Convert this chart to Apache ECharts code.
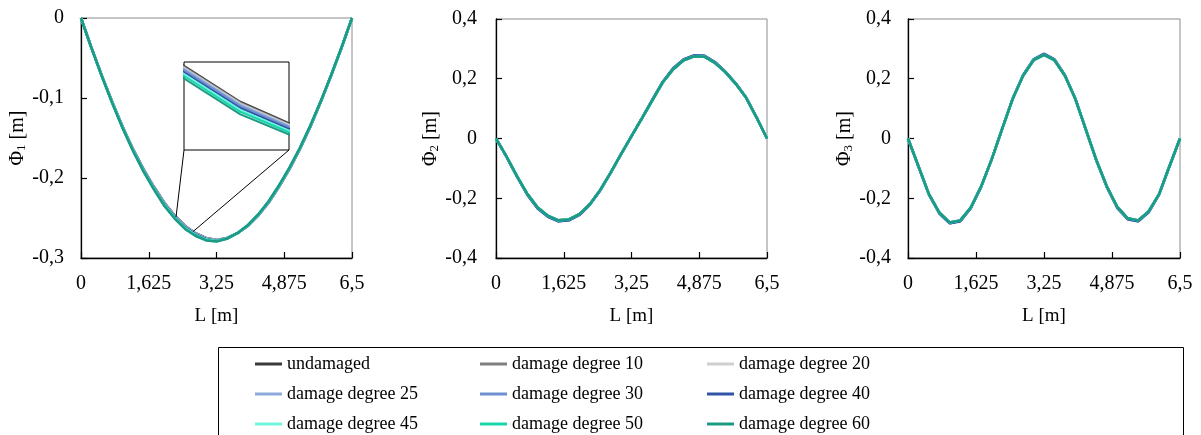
<!DOCTYPE html>
<html><head><meta charset="utf-8">
<script src="https://cdn.jsdelivr.net/npm/echarts@6/dist/echarts.min.js"></script>
<style>html,body{margin:0;padding:0;background:#fff}#c{width:1201px;height:435px}</style>
</head><body><div id="c"></div>
<script>
// ---------- data ----------
const L = [0,0.25,0.5,0.75,1,1.25,1.5,1.75,2,2.25,2.5,2.75,3,3.25,3.5,3.75,4,4.25,4.5,4.75,5,5.25,5.5,5.75,6,6.25,6.5];
const seriesNames = ['undamaged','damage degree 10','damage degree 20','damage degree 25','damage degree 30','damage degree 40','damage degree 45','damage degree 50','damage degree 60'];
const seriesColors = ['#3a3a3a','#7f7f7f','#cfcfcf','#8eaadc','#6f8fd0','#2f54a6','#6ff7df','#18d6ac','#1d9a84'];

// mode 1
const phi1_undamaged = [0,-0.037,-0.072,-0.105,-0.136,-0.164,-0.189,-0.211,-0.231,-0.247,-0.26,-0.269,-0.275,-0.2775,-0.275,-0.269,-0.26,-0.247,-0.231,-0.211,-0.189,-0.164,-0.136,-0.105,-0.072,-0.037,0];
const phi1_d10 = [0,-0.037,-0.0721,-0.1051,-0.1362,-0.1642,-0.1892,-0.2113,-0.2313,-0.2473,-0.2603,-0.2693,-0.2752,-0.2777,-0.2751,-0.269,-0.2599,-0.2469,-0.2308,-0.2108,-0.1888,-0.1639,-0.1359,-0.1049,-0.0719,-0.037,0];
const phi1_d20 = [0,-0.0371,-0.0722,-0.1052,-0.1363,-0.1644,-0.1895,-0.2115,-0.2316,-0.2476,-0.2606,-0.2695,-0.2755,-0.2778,-0.2752,-0.269,-0.2598,-0.2468,-0.2307,-0.2107,-0.1887,-0.1637,-0.1358,-0.1048,-0.0719,-0.037,0];
const phi1_d25 = [0,-0.0371,-0.0723,-0.1054,-0.1365,-0.1646,-0.1898,-0.2119,-0.232,-0.248,-0.261,-0.2699,-0.2758,-0.278,-0.2753,-0.269,-0.2597,-0.2466,-0.2305,-0.2105,-0.1885,-0.1635,-0.1356,-0.1047,-0.0718,-0.0369,0];
const phi1_d30 = [0,-0.0372,-0.0724,-0.1055,-0.1367,-0.1649,-0.1901,-0.2122,-0.2324,-0.2484,-0.2614,-0.2702,-0.2761,-0.2782,-0.2754,-0.269,-0.2596,-0.2465,-0.2303,-0.2103,-0.1883,-0.1634,-0.1355,-0.1046,-0.0718,-0.0369,0];
const phi1_d40 = [0,-0.0373,-0.0725,-0.1058,-0.137,-0.1653,-0.1905,-0.2128,-0.233,-0.249,-0.262,-0.2708,-0.2765,-0.2785,-0.2755,-0.269,-0.2595,-0.2462,-0.23,-0.21,-0.188,-0.1631,-0.1352,-0.1045,-0.0716,-0.0368,0];
const phi1_d45 = [0,-0.0373,-0.0727,-0.106,-0.1373,-0.1656,-0.191,-0.2133,-0.2336,-0.2496,-0.2626,-0.2713,-0.277,-0.2788,-0.2757,-0.269,-0.2593,-0.246,-0.2297,-0.2097,-0.1877,-0.1628,-0.135,-0.1043,-0.0715,-0.0368,0];
const phi1_d50 = [0,-0.0374,-0.0728,-0.1062,-0.1376,-0.166,-0.1914,-0.2138,-0.2342,-0.2502,-0.2632,-0.2718,-0.2774,-0.2791,-0.2758,-0.269,-0.2592,-0.2458,-0.2294,-0.2094,-0.1874,-0.1626,-0.1348,-0.1042,-0.0714,-0.0368,0];
const phi1_d60 = [0,-0.0375,-0.073,-0.1065,-0.138,-0.1665,-0.192,-0.2145,-0.235,-0.251,-0.264,-0.2725,-0.278,-0.2795,-0.276,-0.269,-0.259,-0.2455,-0.229,-0.209,-0.187,-0.1622,-0.1345,-0.104,-0.0713,-0.0367,0];

// mode 2 (curves nearly coincide)
const phi2_undamaged_to_20 = [0,-0.06,-0.125,-0.185,-0.231,-0.259,-0.274,-0.271,-0.253,-0.22,-0.172,-0.114,-0.052,0.008,0.067,0.128,0.188,0.232,0.262,0.275,0.274,0.253,0.222,0.183,0.136,0.07,0];
const phi2_d25_to_40 = [0,-0.061,-0.127,-0.188,-0.234,-0.262,-0.277,-0.274,-0.256,-0.222,-0.174,-0.115,-0.052,0.008,0.068,0.13,0.19,0.235,0.265,0.278,0.277,0.256,0.224,0.185,0.137,0.071,0];
const phi2_d45_to_60 = [0,-0.06,-0.125,-0.185,-0.231,-0.259,-0.274,-0.271,-0.253,-0.22,-0.172,-0.114,-0.052,0.008,0.067,0.128,0.188,0.232,0.262,0.275,0.274,0.253,0.222,0.183,0.136,0.07,0];

// mode 3
const phi3_undamaged_to_20 = [0,-0.093,-0.186,-0.248,-0.281,-0.274,-0.231,-0.16,-0.07,0.032,0.132,0.21,0.262,0.28,0.262,0.21,0.132,0.03,-0.072,-0.16,-0.229,-0.267,-0.274,-0.244,-0.186,-0.092,0];
const phi3_d25_to_40 = [0,-0.094,-0.188,-0.251,-0.284,-0.277,-0.233,-0.161,-0.07,0.032,0.133,0.212,0.265,0.283,0.265,0.212,0.133,0.03,-0.073,-0.162,-0.232,-0.27,-0.277,-0.247,-0.188,-0.093,0];
const phi3_d45_to_60 = [0,-0.093,-0.186,-0.248,-0.281,-0.274,-0.231,-0.16,-0.07,0.032,0.132,0.21,0.262,0.28,0.262,0.21,0.132,0.03,-0.072,-0.16,-0.229,-0.267,-0.274,-0.244,-0.186,-0.092,0];

const xTickInterval = 1.625;
const insetRange = [2.28, 2.69];
const insetValueRange = [-0.2754, -0.2473];

// ---------- chart ----------
const F = '"Liberation Serif", "Times New Roman", serif';
const phi1 = [phi1_undamaged, phi1_d10, phi1_d20, phi1_d25, phi1_d30, phi1_d40, phi1_d45, phi1_d50, phi1_d60];
const phi2 = [phi2_undamaged_to_20, phi2_undamaged_to_20, phi2_undamaged_to_20, phi2_d25_to_40, phi2_d25_to_40, phi2_d25_to_40, phi2_d45_to_60, phi2_d45_to_60, phi2_d45_to_60];
const phi3 = [phi3_undamaged_to_20, phi3_undamaged_to_20, phi3_undamaged_to_20, phi3_d25_to_40, phi3_d25_to_40, phi3_d25_to_40, phi3_d45_to_60, phi3_d45_to_60, phi3_d45_to_60];

const fmt = v => { const s = String(+(+v).toFixed(4)); return s.replace('.', ','); };

function xAx(i) {
  return {
    type: 'value', gridIndex: i, min: 0, max: 6.5, interval: xTickInterval,
    name: 'L [m]', nameLocation: 'middle', nameGap: 49,
    nameTextStyle: {fontFamily: F, fontSize: 19, color: '#000'},
    axisLine: {show: true, onZero: false, lineStyle: {color: '#000', width: 1.3}},
    axisTick: {show: true, inside: true, length: 6, lineStyle: {color: '#000', width: 1.2}},
    axisLabel: {fontFamily: F, fontSize: 20, color: '#000', margin: 16, formatter: fmt, showMaxLabel: true, showMinLabel: true},
    splitLine: {show: false}
  };
}
function yAx(i, min, max, interval, sub, margin) {
  return {
    type: 'value', gridIndex: i, min: min, max: max, interval: interval,
    name: '{a|Φ}{s|' + sub + '}{a| [m]}', nameLocation: 'middle', nameGap: 51,
    nameTextStyle: {fontFamily: F, fontSize: 20, color: '#000',
      rich: {a: {fontFamily: F, fontSize: 20, color: '#000', lineHeight: 22},
             s: {fontFamily: F, fontSize: 13, color: '#000', lineHeight: 22, verticalAlign: 'bottom'}}},
    axisLine: {show: true, onZero: false, lineStyle: {color: '#000', width: 1.3}},
    axisTick: {show: true, inside: true, length: 6, lineStyle: {color: '#000', width: 1.2}},
    axisLabel: {fontFamily: F, fontSize: 20, color: '#000', margin: margin, formatter: fmt},
    splitLine: {show: false}
  };
}

const grids = [
  {left: 81, top: 18, width: 271, height: 240, show: true, borderColor: '#8c8c8c', borderWidth: 1},
  {left: 496, top: 19, width: 271, height: 239, show: true, borderColor: '#8c8c8c', borderWidth: 1},
  {left: 908, top: 19, width: 272, height: 239, show: true, borderColor: '#8c8c8c', borderWidth: 1},
  {left: 184, top: 62, width: 105, height: 88, show: true, borderColor: '#000', borderWidth: 1, backgroundColor: '#fff', z: 5}
];
const xAxes = [xAx(0), xAx(1), xAx(2),
  {type: 'value', gridIndex: 3, min: insetRange[0], max: insetRange[1], show: false}];
const yAxes = [yAx(0, -0.3, 0, 0.1, '1', 17), yAx(1, -0.4, 0.4, 0.2, '2', 19), yAx(2, -0.4, 0.4, 0.2, '3', 17),
  {type: 'value', gridIndex: 3, min: insetValueRange[0], max: insetValueRange[1], show: false}];

const series = [];
function addSeries(arrs, gi, width, z) {
  arrs.forEach((arr, k) => {
    series.push({
      type: 'line', name: seriesNames[k], xAxisIndex: gi, yAxisIndex: gi,
      data: L.map((x, i) => [x, arr[i]]),
      showSymbol: false, symbol: 'none', clip: true, z: z,
      color: seriesColors[k],
      lineStyle: {color: seriesColors[k], width: width},
      itemStyle: {color: seriesColors[k]},
      emphasis: {disabled: true}, animation: false
    });
  });
}
addSeries(phi1, 0, 2.5, 2);
addSeries(phi2, 1, 2.5, 2);
addSeries(phi3, 2, 2.5, 2);
addSeries(phi1, 3, 2, 6);

// legend: 3 columns x 3 rows, one legend per entry
const legendCols = [255, 480, 707];
const legendRows = [364, 394, 424];
const legends = seriesNames.map((n, k) => ({
  data: [n], left: legendCols[k % 3], top: legendRows[Math.floor(k / 3)] - 11,
  icon: 'rect', itemWidth: 27, itemHeight: 3, itemGap: 0, selectedMode: false, padding: 0,
  textStyle: {fontFamily: F, fontSize: 18, color: '#000', lineHeight: 22}
}));

const chart = echarts.init(document.getElementById('c'), null, {renderer: 'canvas'});
chart.setOption({
  animation: false,
  backgroundColor: '#fff',
  grid: grids, xAxis: xAxes, yAxis: yAxes, series: series,
  legend: legends
});

// connector lines from inset corners to the zoomed curve region
function interp(arr, x) {
  for (let i = 0; i < L.length - 1; i++) {
    if (x >= L[i] && x <= L[i + 1]) { const t = (x - L[i]) / (L[i + 1] - L[i]); return arr[i] + t * (arr[i + 1] - arr[i]); }
  }
  return 0;
}
const pA = chart.convertToPixel({gridIndex: 0}, [insetRange[0], interp(phi1_undamaged, insetRange[0])]);
const pB = chart.convertToPixel({gridIndex: 0}, [insetRange[1], interp(phi1_undamaged, insetRange[1])]);
const cA = chart.convertToPixel({gridIndex: 3}, [insetRange[0], insetValueRange[0]]);
const cB = chart.convertToPixel({gridIndex: 3}, [insetRange[1], insetValueRange[0]]);
chart.setOption({
  graphic: [
    {id: 'l1', type: 'line', z: 10, shape: {x1: cA[0], y1: cA[1], x2: pA[0], y2: pA[1]}, style: {stroke: '#000', lineWidth: 1}},
    {id: 'l2', type: 'line', z: 10, shape: {x1: cB[0], y1: cB[1], x2: pB[0], y2: pB[1]}, style: {stroke: '#000', lineWidth: 1}},
    {id: 'box', type: 'rect', z: 10, shape: {x: 218.5, y: 347.5, width: 965, height: 100}, style: {fill: 'none', stroke: '#000', lineWidth: 1}}
  ]
});
</script></body></html>
